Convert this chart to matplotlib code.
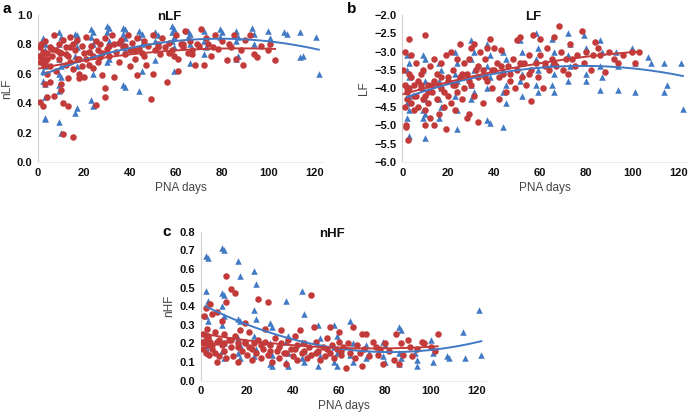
import numpy as np
import matplotlib
matplotlib.use("Agg")
import matplotlib.pyplot as plt

plt.rcParams["font.family"] = ["Liberation Sans", "DejaVu Sans"]

RED = "#C23B3A"
BLUE = "#4179C4"

# ---- panel a: nLF ----
nlf_blue_x = [2, 2, 3, 3, 2, 3, 2, 3, 3, 3, 3, 2,
              9, 10, 9, 10, 9, 10, 9, 10, 9, 9, 9, 10,
              16, 17, 16, 17, 16, 17, 17, 16,
              23, 24, 23, 24, 23, 24, 23, 24,
              30, 31, 30, 31, 30, 31, 30,
              37, 38, 37, 38, 37, 38, 37, 38,
              44, 45, 44, 45, 45, 44,
              51, 52, 51, 52, 51,
              58, 59, 58, 59, 58, 59, 59,
              65, 66, 65, 66, 66,
              72, 73, 72, 73, 72,
              79, 80, 79,
              86, 87, 86, 87, 86,
              93, 94, 94,
              100, 101,
              107, 108,
              114, 115, 114,
              121, 122]
nlf_blue_y = [0.84, 0.83, 0.80, 0.76, 0.72, 0.65, 0.55, 0.53, 0.44, 0.30, 0.29, 0.62,
              0.88, 0.85, 0.80, 0.75, 0.70, 0.65, 0.60, 0.58, 0.52, 0.48, 0.27, 0.20,
              0.87, 0.86, 0.82, 0.78, 0.72, 0.65, 0.37, 0.33,
              0.90, 0.88, 0.85, 0.80, 0.75, 0.60, 0.42, 0.38,
              0.92, 0.91, 0.88, 0.82, 0.76, 0.70, 0.68,
              0.91, 0.90, 0.87, 0.84, 0.80, 0.76, 0.52, 0.51,
              0.89, 0.87, 0.85, 0.80, 0.62, 0.48,
              0.88, 0.86, 0.82, 0.80, 0.69,
              0.92, 0.90, 0.88, 0.85, 0.82, 0.78, 0.62,
              0.89, 0.87, 0.85, 0.80, 0.67,
              0.89, 0.85, 0.82, 0.78, 0.73,
              0.90, 0.88, 0.85,
              0.89, 0.85, 0.82, 0.72, 0.70,
              0.91, 0.87, 0.80,
              0.89, 0.84,
              0.88, 0.87,
              0.88, 0.72, 0.71,
              0.85, 0.60]
nlf_red_x = [0.5, 1, 1, 1.5, 2, 2, 2, 2.5, 3, 3, 3, 4, 4, 4, 5, 5, 5,
             6, 7, 7, 8, 8, 9, 9, 10, 10, 10, 11, 11, 11, 12, 12, 13, 13, 13, 14, 14, 15, 15, 15,
             16, 17, 17, 18, 18, 19, 19, 20, 20, 21, 21, 22, 23, 24, 24, 25, 25, 26, 26,
             27, 28, 28, 29, 29, 29, 30, 31, 32, 33, 33, 34, 35, 36, 37, 38, 39, 40, 40,
             41, 42, 43, 43, 44, 45, 46, 47, 48, 49, 50, 50, 51, 52, 53, 54, 55, 56, 57,
             58, 59, 60, 61, 61, 62, 63, 64, 65, 66, 67, 68, 69, 70,
             71, 72, 73, 74, 75, 77, 78, 80, 82, 83, 85, 86, 88, 89, 90, 92, 94, 95, 97, 100, 101, 103,
             1, 2, 4, 6, 9, 12, 14, 18, 22, 27, 31, 35, 38, 42, 46, 52, 57, 63, 67, 76, 84]
nlf_red_y = [0.72, 0.78, 0.41, 0.80, 0.75, 0.70, 0.38, 0.66, 0.82, 0.68, 0.53, 0.74, 0.60, 0.44, 0.78, 0.65, 0.54,
             0.72, 0.86, 0.45, 0.76, 0.62, 0.80, 0.70, 0.74, 0.53, 0.49, 0.83, 0.40, 0.19, 0.78, 0.66, 0.72, 0.57, 0.38, 0.85, 0.68, 0.80, 0.63, 0.17,
             0.76, 0.83, 0.70, 0.60, 0.57, 0.79, 0.65, 0.74, 0.58, 0.85, 0.70, 0.66, 0.79, 0.72, 0.64, 0.82, 0.39, 0.76, 0.68,
             0.80, 0.74, 0.59, 0.84, 0.50, 0.44, 0.77, 0.72, 0.86, 0.80, 0.58, 0.75, 0.68, 0.83, 0.78, 0.73, 0.86, 0.76, 0.65,
             0.81, 0.70, 0.84, 0.59, 0.77, 0.74, 0.82, 0.66, 0.79, 0.43, 0.86, 0.60, 0.76, 0.80, 0.73, 0.84, 0.78, 0.54, 0.81,
             0.76, 0.72, 0.86, 0.70, 0.62, 0.80, 0.78, 0.89, 0.74, 0.82, 0.76, 0.66, 0.80, 0.79,
             0.90, 0.66, 0.84, 0.80, 0.72, 0.86, 0.77, 0.82, 0.69, 0.80, 0.86, 0.70, 0.76, 0.66, 0.83, 0.86, 0.73, 0.71, 0.79, 0.76, 0.80, 0.69,
             0.68, 0.73, 0.70, 0.77, 0.75, 0.73, 0.78, 0.70, 0.75, 0.71, 0.79, 0.81, 0.79, 0.76, 0.72, 0.78, 0.74, 0.80, 0.73, 0.78, 0.78]

# ---- panel b: LF ----
lf_blue_x = [2, 3, 2, 3, 2, 3, 2, 3, 2, 3, 3,
             9, 10, 9, 10, 9, 10, 9, 10, 9, 10,
             16, 17, 16, 17, 16, 17, 16,
             23, 24, 23, 24, 23, 24, 24,
             30, 31, 30, 31, 30, 31, 30,
             37, 38, 37, 38, 37, 37, 38,
             44, 45, 44, 45, 44, 45, 44,
             51, 52, 51, 52, 51, 52,
             58, 59, 58, 59, 58, 59,
             65, 66, 65, 66, 66, 65,
             72, 73, 72, 73, 72,
             79, 80, 79, 80, 80,
             86, 87, 86, 87, 86,
             93, 94, 94,
             100, 101, 101,
             107, 108,
             114, 115, 114,
             121, 122]
lf_blue_y = [-3.1, -3.3, -3.5, -3.7, -3.9, -4.2, -4.4, -4.6, -4.8, -5.3, -4.0,
             -3.1, -3.2, -3.5, -3.8, -4.0, -4.3, -4.6, -4.7, -4.8, -5.35,
             -3.3, -3.5, -3.8, -4.0, -4.3, -4.5, -4.8,
             -3.0, -3.3, -3.6, -3.8, -4.2, -4.6, -5.1,
             -2.7, -3.0, -3.2, -3.5, -3.9, -4.1, -4.3,
             -2.8, -3.1, -3.4, -3.7, -4.0, -4.85, -4.95,
             -3.0, -3.2, -3.5, -3.9, -4.1, -4.4, -5.05,
             -2.7, -3.0, -3.3, -3.6, -3.8, -4.2,
             -2.5, -2.9, -3.2, -3.5, -3.9, -4.1,
             -2.65, -3.0, -3.3, -3.6, -4.1, -3.9,
             -2.5, -2.8, -3.1, -3.4, -3.8,
             -2.55, -2.9, -3.3, -3.6, -3.8,
             -2.7, -3.0, -3.4, -3.7, -4.05,
             -3.0, -3.4, -4.05,
             -2.9, -3.3, -4.1,
             -3.15, -3.3,
             -3.3, -3.9, -4.1,
             -3.3, -4.55]
lf_red_x = [0.5, 1, 1, 1, 1.5, 1.5, 2, 2, 2.5, 3, 3, 3, 4, 4, 4, 5, 5, 6, 6, 7, 7, 8, 8, 9, 9,
            10, 10, 10, 10, 11, 11, 12, 12, 13, 13, 14, 14, 15, 15, 16, 16, 17, 17, 18, 18, 19, 19,
            20, 20, 21, 21, 22, 22, 23, 24, 24, 25, 25, 26, 27, 27, 28, 28, 29, 29,
            30, 30, 31, 31, 32, 33, 33, 34, 35, 35, 36, 37, 37, 38, 39, 40, 40,
            41, 42, 42, 43, 44, 45, 46, 47, 48, 49, 50, 50, 51, 52, 53, 54, 55, 55, 56, 57,
            58, 59, 60, 60, 61, 62, 63, 64, 65, 66, 67, 68, 69, 70, 71, 72, 73, 75, 76, 78, 79, 80,
            82, 84, 85, 86, 88, 90, 92, 94, 96, 100, 101, 103,
            2, 5, 8, 11, 14, 17, 20, 23, 26, 29, 33, 36, 39, 43, 47, 51, 56, 62, 66, 74, 83]
lf_red_y = [-3.5, -3.0, -3.9, -4.5, -5.0, -5.05, -4.1, -4.3, -5.4, -3.6, -2.65, -4.0, -3.7, -4.4, -3.1, -4.6, -3.9, -3.3, -4.2, -4.5, -3.8, -4.0, -3.6, -4.3, -3.5,
            -2.55, -4.2, -4.6, -5.0, -3.9, -4.4, -3.4, -4.8, -3.9, -4.1, -3.2, -5.0, -3.6, -4.3, -3.9, -4.7, -3.3, -3.7, -4.1, -4.5, -5.1, -3.1,
            -3.8, -4.2, -3.0, -4.4, -3.5, -3.9, -4.6, -3.2, -4.1, -2.8, -3.7, -4.3, -3.3, -4.0, -3.6, -4.8, -3.2, -4.7,
            -2.9, -3.9, -2.8, -4.2, -3.5, -4.9, -3.7, -3.0, -3.5, -4.4, -3.2, -2.9, -3.8, -2.65, -4.0, -3.5, -2.9,
            -3.3, -4.3, -3.7, -2.95, -3.6, -4.1, -3.4, -3.8, -3.2, -4.0, -2.7, -3.5, -2.6, -3.7, -3.3, -3.9, -3.1, -3.6, -4.35, -2.55,
            -3.3, -3.7, -2.65, -3.1, -4.0, -3.3, -2.9, -3.5, -3.2, -2.6, -3.4, -2.3, -3.0, -3.5, -3.2, -3.6, -2.8, -3.4, -3.1, -2.45, -3.3, -3.0,
            -3.5, -2.75, -2.9, -3.1, -3.55, -3.0, -3.2, -3.3, -3.1, -3.0, -3.3, -3.0,
            -4.0, -4.2, -3.9, -4.1, -3.8, -4.0, -3.7, -3.9, -3.6, -3.8, -3.4, -3.7, -3.5, -3.4, -3.6, -3.3, -3.5, -3.4, -3.3, -3.2, -3.1]

# ---- panel c: nHF ----
nhf_blue_x = [2, 3, 2, 3, 2, 3, 2, 3, 2, 3,
              9, 10, 9, 10, 9, 10, 9, 10, 9, 10,
              16, 17, 16, 17, 16, 17, 16, 17,
              23, 24, 23, 24, 23, 24, 23,
              30, 31, 30, 31, 30, 31,
              37, 38, 37, 38, 37, 38,
              44, 45, 44, 45, 44, 45,
              51, 52, 51, 52, 51,
              58, 59, 58, 59, 58, 59,
              65, 66, 65, 66,
              72, 73, 72,
              79, 80, 79, 80,
              86, 87, 86, 87, 86,
              93, 94, 94,
              100, 101, 101,
              107, 108,
              114, 115,
              121, 122]
nhf_blue_y = [0.67, 0.66, 0.48, 0.43, 0.35, 0.32, 0.25, 0.21, 0.18, 0.15,
              0.71, 0.70, 0.47, 0.46, 0.40, 0.35, 0.30, 0.20, 0.16, 0.12,
              0.64, 0.56, 0.33, 0.32, 0.23, 0.19, 0.15, 0.12,
              0.59, 0.52, 0.38, 0.33, 0.24, 0.17, 0.13,
              0.31, 0.29, 0.20, 0.14, 0.09, 0.08,
              0.43, 0.24, 0.21, 0.15, 0.10, 0.08,
              0.48, 0.36, 0.21, 0.16, 0.12, 0.10,
              0.30, 0.23, 0.16, 0.13, 0.08,
              0.30, 0.24, 0.18, 0.15, 0.10, 0.08,
              0.32, 0.20, 0.14, 0.10,
              0.19, 0.15, 0.12,
              0.21, 0.19, 0.13, 0.10,
              0.29, 0.27, 0.15, 0.12, 0.09,
              0.15, 0.11, 0.08,
              0.22, 0.15, 0.10,
              0.13, 0.12,
              0.26, 0.12,
              0.38, 0.14]
nhf_red_x = [0.5, 1, 1, 1.5, 2, 2, 2, 2.5, 3, 3, 3.5, 4, 4, 5, 5, 6, 6, 7, 7, 8, 8, 9, 9, 10, 10,
             11, 11, 11, 12, 13, 13, 14, 15, 15, 16, 16, 17, 18, 19, 19, 20, 21, 21, 22, 23, 24,
             25, 25, 26, 27, 28, 28, 29, 29, 30, 31, 32, 33, 34, 35, 35, 36, 37, 38, 39, 40,
             41, 42, 42, 43, 44, 45, 46, 47, 48, 48, 49, 50, 51, 52, 53, 54, 55, 56, 56, 57, 58, 59,
             60, 60, 61, 62, 63, 64, 65, 66, 67, 68, 70, 70, 71, 72, 73, 75, 76, 77, 79, 80,
             82, 84, 85, 86, 87, 88, 90, 92, 94, 96, 97, 100, 102, 103,
             1, 3, 5, 7, 10, 13, 16, 19, 22, 26, 30, 34, 37, 41, 45, 50, 55, 61, 69, 78, 91]
nhf_red_y = [0.21, 0.17, 0.25, 0.35, 0.15, 0.22, 0.39, 0.28, 0.19, 0.24, 0.14, 0.21, 0.41, 0.17, 0.36, 0.26, 0.15, 0.10, 0.37, 0.22, 0.13, 0.19, 0.32, 0.25, 0.16,
             0.56, 0.42, 0.12, 0.22, 0.49, 0.18, 0.13, 0.24, 0.47, 0.20, 0.10, 0.27, 0.16, 0.31, 0.21, 0.14, 0.26, 0.18, 0.11, 0.20, 0.15,
             0.44, 0.22, 0.12, 0.17, 0.28, 0.21, 0.42, 0.14, 0.19, 0.10, 0.23, 0.16, 0.12, 0.27, 0.20, 0.15, 0.09, 0.22, 0.17, 0.13,
             0.24, 0.19, 0.11, 0.27, 0.15, 0.20, 0.12, 0.18, 0.46, 0.14, 0.29, 0.21, 0.16, 0.11, 0.18, 0.13, 0.23, 0.29, 0.15, 0.19, 0.12, 0.17,
             0.26, 0.21, 0.14, 0.18, 0.07, 0.20, 0.15, 0.29, 0.12, 0.19, 0.25, 0.08, 0.17, 0.25, 0.13, 0.21, 0.18, 0.14, 0.09, 0.20,
             0.16, 0.11, 0.25, 0.09, 0.20, 0.14, 0.22, 0.13, 0.17, 0.21, 0.20, 0.18, 0.16, 0.25,
             0.20, 0.23, 0.19, 0.21, 0.20, 0.22, 0.18, 0.20, 0.17, 0.19, 0.16, 0.18, 0.15, 0.17, 0.16, 0.15, 0.17, 0.16, 0.15, 0.17, 0.18]

xticks = [0, 20, 40, 60, 80, 100, 120]


def panel(fig, rect, bx, by, rx, ry, ylim, yticks, ylabel, title, letter, letter_pos):
    ax = fig.add_axes(rect)
    ax.scatter(bx, by, marker="^", s=22, color=BLUE, linewidths=0, zorder=2)
    ax.scatter(rx, ry, marker="o", s=22, color=RED, linewidths=0, zorder=3)

    # second-order trend lines, Excel style
    for xs, ys, c in ((bx, by, BLUE), (rx, ry, RED)):
        coef = np.polyfit(xs, ys, 2)
        xx = np.linspace(min(xs), max(xs), 200)
        ax.plot(xx, np.polyval(coef, xx), color=c, lw=1.4, zorder=4)

    ax.set_xlim(0, 124)
    ax.set_ylim(*ylim)
    ax.set_xticks(xticks)
    ax.set_yticks(yticks)
    ax.set_yticklabels(["{:.1f}".format(v).replace("-", "\u2212") for v in yticks])
    ax.tick_params(length=0, labelsize=8, pad=4, colors="#111111")
    for lab in ax.get_xticklabels() + ax.get_yticklabels():
        lab.set_fontweight("bold")
    for s in ("top", "right"):
        ax.spines[s].set_visible(False)
    ax.spines["left"].set_color("#d0d0d0")
    ax.spines["bottom"].set_color("#ececec")
    ax.set_xlabel("PNA days", fontsize=8.5, color="#444444", labelpad=3)
    ax.set_ylabel(ylabel, fontsize=8.5, color="#444444", labelpad=3)
    ax.text(57, ylim[1] - 0.015 * (ylim[1] - ylim[0]), title, ha="center", va="center",
            fontsize=9.5, fontweight="bold", color="#111111")
    fig.text(letter_pos[0], letter_pos[1], letter, fontsize=11, fontweight="bold", va="top")
    return ax


fig = plt.figure(figsize=(6.9, 4.13), dpi=100)

panel(fig, [0.0551, 0.6077, 0.4136, 0.3567], nlf_blue_x, nlf_blue_y, nlf_red_x, nlf_red_y,
      (0.0, 1.0), [0.0, 0.2, 0.4, 0.6, 0.8, 1.0], "nLF", "nLF", "a", (0.003, 0.995))
panel(fig, [0.5830, 0.6077, 0.4133, 0.3567], lf_blue_x, lf_blue_y, lf_red_x, lf_red_y,
      (-6.0, -2.0), [-6.0, -5.5, -5.0, -4.5, -4.0, -3.5, -3.0, -2.5, -2.0], "LF", "LF", "b",
      (0.503, 0.995))
panel(fig, [0.2913, 0.0782, 0.4129, 0.3608], nhf_blue_x, nhf_blue_y, nhf_red_x, nhf_red_y,
      (0.0, 0.8), [0.0, 0.1, 0.2, 0.3, 0.4, 0.5, 0.6, 0.7, 0.8], "nHF", "nHF", "c",
      (0.236, 0.455))

fig.savefig("out.png", dpi=100)
